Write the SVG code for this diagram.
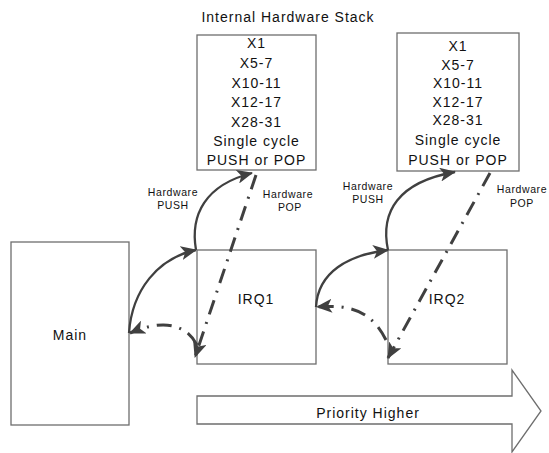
<svg xmlns="http://www.w3.org/2000/svg" width="549" height="453" viewBox="0 0 549 453">
<style>
.box{fill:#fff;stroke:#6e6e6e;stroke-width:1.3}
.t{font-family:"Liberation Sans",Arial,sans-serif;font-size:14px;letter-spacing:1px;fill:#111;text-anchor:middle}
.s{font-family:"Liberation Sans",Arial,sans-serif;font-size:10.5px;letter-spacing:0.6px;fill:#111;text-anchor:middle}
.push{fill:none;stroke:#404040;stroke-width:2.3;marker-end:url(#ah)}
.pop{fill:none;stroke:#404040;stroke-width:3;stroke-dasharray:15 8 2 8;marker-end:url(#ah)}
</style>
<defs>
<marker id="ah" markerWidth="16" markerHeight="14" refX="15" refY="7" orient="auto" markerUnits="userSpaceOnUse" viewBox="0 0 16 14"><path d="M0,0 L16,7 L0,14 L4,7 Z" fill="#404040"/></marker>
</defs>
<text class="t" x="288" y="22">Internal Hardware Stack</text>
<g id="stack1">
<rect class="box" x="197" y="35" width="119" height="135"/>
<text class="t" x="256.5" y="48">X1</text>
<text class="t" x="256.5" y="68">X5-7</text>
<text class="t" x="256.5" y="88">X10-11</text>
<text class="t" x="256.5" y="107">X12-17</text>
<text class="t" x="256.5" y="127">X28-31</text>
<text class="t" x="256.5" y="146">Single cycle</text>
<text class="t" x="256.5" y="165">PUSH or POP</text>
</g>
<g id="stack2">
<rect class="box" x="397" y="33" width="122" height="138"/>
<text class="t" x="458" y="51">X1</text>
<text class="t" x="458" y="70">X5-7</text>
<text class="t" x="458" y="88">X10-11</text>
<text class="t" x="458" y="107">X12-17</text>
<text class="t" x="458" y="125">X28-31</text>
<text class="t" x="458" y="145">Single cycle</text>
<text class="t" x="458" y="165">PUSH or POP</text>
</g>
<g id="main">
<rect class="box" x="11" y="242" width="118" height="183"/>
<text class="t" x="70" y="340">Main</text>
</g>
<g id="irq1">
<rect class="box" x="197" y="250" width="119" height="114"/>
<text class="t" x="256" y="304">IRQ1</text>
</g>
<g id="irq2">
<rect class="box" x="388" y="250" width="119" height="114"/>
<text class="t" x="447" y="304">IRQ2</text>
</g>
<g id="priority">
<path class="box" d="M197,396 H512 V370 L541,411 L512,452 V424 H197 Z"/>
<text class="t" x="368" y="418">Priority Higher</text>
</g>
<g id="labels">
<text class="s" x="173" y="196">Hardware</text>
<text class="s" x="173" y="209">PUSH</text>
<text class="s" x="288" y="198">Hardware</text>
<text class="s" x="290" y="211">POP</text>
<text class="s" x="368" y="190">Hardware</text>
<text class="s" x="368" y="203">PUSH</text>
<text class="s" x="522" y="193">Hardware</text>
<text class="s" x="522" y="207">POP</text>
</g>
<g id="connectors">
<path class="push" d="M196,250 C190,215 205,185 252,173"/>
<path class="push" d="M129,333 C132,290 158,258 196,250"/>
<path class="push" d="M388,250 C380,212 398,182 455,172"/>
<path class="push" d="M316,307 C318,272 348,255 388,250"/>
<path class="pop" d="M256,175 L195,357"/>
<path class="pop" d="M490,173 L388,358"/>
<path class="pop" d="M197,345 C185,322 160,320 130,333"/>
<path class="pop" d="M386,340 C372,312 352,304 317,307"/>
</g>
</svg>
